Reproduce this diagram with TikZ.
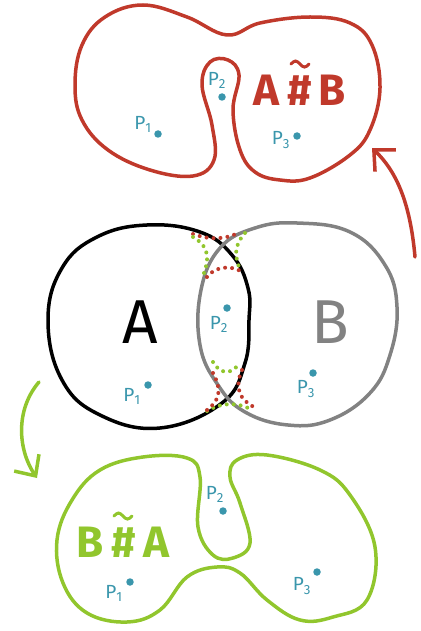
\documentclass[tikz,border=0pt]{standalone}
\usepackage{fontspec}
\setmainfont{Fira Sans}
\usetikzlibrary{arrows.meta,positioning}
\definecolor{sketchred}{RGB}{192,57,43}
\definecolor{sketchgreen}{RGB}{145,198,45}
\definecolor{sketchgray}{RGB}{130,130,130}
\definecolor{sketchteal}{RGB}{58,150,172}
\newcommand{\plab}[1]{P\textsubscript{#1}}

\begin{document}
\begin{tikzpicture}[
    x=1pt, y=-1pt,
    outline/.style={line width=3.5pt, line cap=round, line join=round},
    dotline/.style={line width=4pt, line cap=round, dash pattern=on 0pt off 7pt},
    ptdot/.style={circle, fill=sketchteal, inner sep=0pt, minimum size=7.5pt},
    ptlab/.style={text=sketchteal, font=\fontsize{19}{19}\selectfont, inner sep=1pt},
    setlab/.style={font=\fontsize{62}{62}\selectfont, inner sep=0pt},
    oplab/.style={font=\fontsize{44}{44}\selectfont\bfseries, inner sep=0pt},
    wave/.style={line width=3pt, line cap=round},
    >={Straight Barb[length=16pt, width=30pt]}
  ]
  \useasboundingbox (0,0) rectangle (420,631);

  % Sets A and B
  \draw[outline, black] plot[smooth cycle, tension=0.7] coordinates {
    (147,225) (200,232) (232,255) (248,288) (249,320) (245,363) (222,403)
    (160,428) (100,415) (62,380) (48,320) (62,268) (97,237)};
  \draw[outline, sketchgray] plot[smooth cycle, tension=0.7] coordinates {
    (297,223) (350,232) (385,265) (397,307) (390,355) (370,393) (330,420)
    (288,425) (245,412) (218,385) (200,345) (201,290) (220,248) (255,228)};

  % Dotted cut lines
  \draw[dotline, sketchred] (193,234) .. controls (210,240) and (225,240) .. (240,232);
  \draw[dotline, sketchred] (207,277) .. controls (215,266) and (232,265) .. (242,272);
  \draw[dotline, sketchgreen] (193,237) .. controls (212,248) and (208,262) .. (203,276);
  \draw[dotline, sketchgreen] (245,233) .. controls (232,248) and (236,258) .. (240,270);
  \draw[dotline, sketchgreen] (213,362) .. controls (220,375) and (233,375) .. (240,362);
  \draw[dotline, sketchgreen] (207,411) .. controls (222,402) and (238,402) .. (252,410);
  \draw[dotline, sketchred] (213,373) .. controls (222,390) and (220,400) .. (207,410);
  \draw[dotline, sketchred] (242,370) .. controls (234,388) and (240,400) .. (254,407);

  % A#B (red)
  \draw[outline, sketchred] plot[smooth cycle, tension=0.65] coordinates {
    (143,5) (187,17) (227,35) (260,23) (310,17) (350,23) (372,45) (380,88)
    (370,130) (350,155) (310,178) (280,180) (255,172) (240,150) (233,110)
    (239,75) (228,60) (210,62) (202,85) (212,125) (214,160) (193,176)
    (150,170) (108,150) (82,120) (75,85) (82,45) (105,17)};

  % B#A (green)
  \draw[outline, sketchgreen] plot[smooth cycle, tension=0.65] coordinates {
    (143,457) (187,458) (200,477) (198,527) (213,555) (233,558) (250,543)
    (240,503) (230,477) (237,460) (267,455) (320,470) (350,495) (375,547)
    (367,600) (333,617) (300,620) (267,600) (240,573) (217,567) (187,577)
    (160,610) (127,622) (87,613) (63,583) (57,540) (72,500) (100,470)};

  % Nodes
  \node[setlab] (A) at (140,322) {A};
  \node[setlab, text=sketchgray] (B) at (330,322) {B};
  \node[oplab, text=sketchred] (AB) at (300,90) {A\,\#\,B};
  \node[oplab, text=sketchgreen] (BA) at (123,542) {B\,\#\,A};

  % Tildes over the #
  \coordinate[above=12pt of AB.north] (ABt);
  \coordinate[above=12pt of BA.north] (BAt);
  \draw[wave, sketchred] ([xshift=-9pt,yshift=-1.5pt]ABt)
    sin ++(4.5,-3) cos ++(4.5,3) sin ++(4.5,3) cos ++(4.5,-3);
  \draw[wave, sketchgreen] ([xshift=-9pt,yshift=-1.5pt]BAt)
    sin ++(4.5,-3) cos ++(4.5,3) sin ++(4.5,3) cos ++(4.5,-3);

  % Points
  \node[ptdot] (c1) at (148,385) {};
  \node[ptdot] (c2) at (227,308) {};
  \node[ptdot] (c3) at (313,373) {};
  \node[ptlab] at (132,396) {\plab{1}};
  \node[ptlab] at (219,324) {\plab{2}};
  \node[ptlab] at (306,389) {\plab{3}};
  \node[ptdot] (r1) at (158,134) {};
  \node[ptdot] (r2) at (222,97) {};
  \node[ptdot] (r3) at (297,136) {};
  \node[ptlab] at (143,124) {\plab{1}};
  \node[ptlab] at (217,80) {\plab{2}};
  \node[ptlab] at (281,140) {\plab{3}};
  \node[ptdot] (g1) at (130,582) {};
  \node[ptdot] (g2) at (223,511) {};
  \node[ptdot] (g3) at (317,572) {};
  \node[ptlab] at (114,593) {\plab{1}};
  \node[ptlab] at (215,494) {\plab{2}};
  \node[ptlab] at (302,586) {\plab{3}};

  % Arrows
  \coordinate (redtail) at (415,257);
  \coordinate (redtip) at (372,148);
  \coordinate (greentail) at (39,382);
  \coordinate (greentip) at (37,478);
  \draw[->, sketchred, line width=3.5pt, line cap=round]
    (redtail) .. controls (410,200) and (395,170) .. (redtip);
  \draw[->, sketchgreen, line width=3.5pt, line cap=round]
    (greentail) .. controls (15,410) and (18,450) .. (greentip);
\end{tikzpicture}
\end{document}
